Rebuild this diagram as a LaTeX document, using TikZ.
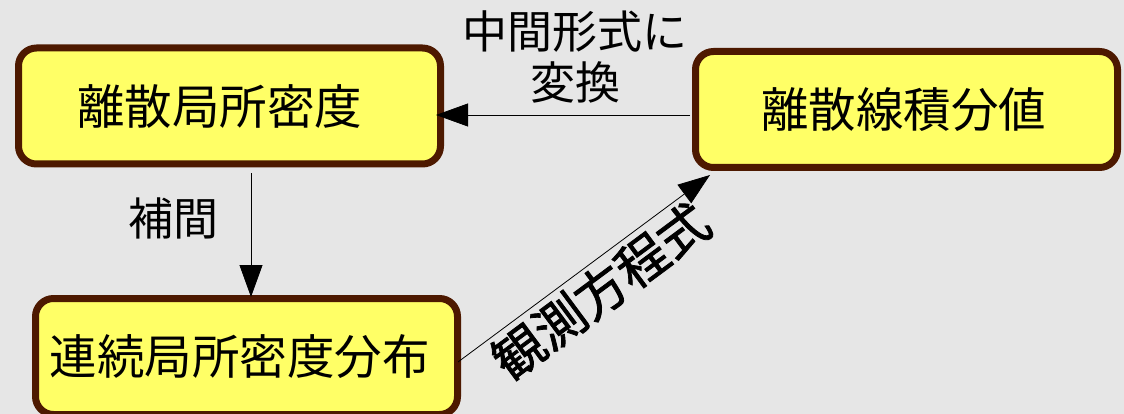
\documentclass[tikz,border=0pt]{standalone}
\usepackage{fontspec}
\setmainfont{Noto Sans CJK JP}
\newfontfamily\cjkb{Noto Sans CJK JP}[FakeBold=1.5]
\usetikzlibrary{arrows.meta}
\definecolor{bg}{RGB}{230,230,230}
\definecolor{boxfill}{RGB}{255,255,102}
\definecolor{boxline}{RGB}{77,25,0}
\begin{document}
\begin{tikzpicture}[x=1pt,y=-1pt,
  box/.style={draw=boxline, fill=boxfill, line width=7pt, rounded corners=18pt,
    minimum width=422pt, minimum height=116pt, inner sep=0pt,
    font=\fontsize{47.5}{50}\selectfont},
  conn/.style={line width=0.8pt, -{Triangle[length=32pt,width=23pt]}},
  lbl/.style={font=\fontsize{45}{51}\selectfont, inner sep=0pt}]
\useasboundingbox (0,0) rectangle (1124,414);
\clip (0,0) rectangle (1124,414);
\fill[bg] (0,0) rectangle (1124,414);
\node[box] (b1) at (229.5,106) {\hspace*{-20pt}離散局所密度};
\node[box] (b2) at (906.5,109.5) {\hspace*{-6pt}離散線積分値};
\node[box] (b3) at (246.5,356.5) {\hspace*{-14pt}連続局所密度分布};
\draw[conn, shorten <=2pt, shorten >=-8pt] ([yshift=-5.5pt]b2.west) -- ([yshift=-9pt]b1.east);
\draw[conn, shorten <=6pt, shorten >=-2pt] ([xshift=21.5pt]b1.south) -- ([xshift=4.5pt]b3.north);
\draw[conn] ([xshift=-3pt,yshift=-5.5pt]b3.east) -- ([xshift=18pt,yshift=-4pt]b2.south west)
  node[midway, sloped, below=4pt, inner sep=0pt, font=\cjkb\fontsize{51}{55}\selectfont] (l4) {観測方程式};
\node[lbl, align=center] (l1) at (575,57) {中間形式に\\変換};
\node[lbl] (l3) at (173,218) {補間};
\end{tikzpicture}
\end{document}
